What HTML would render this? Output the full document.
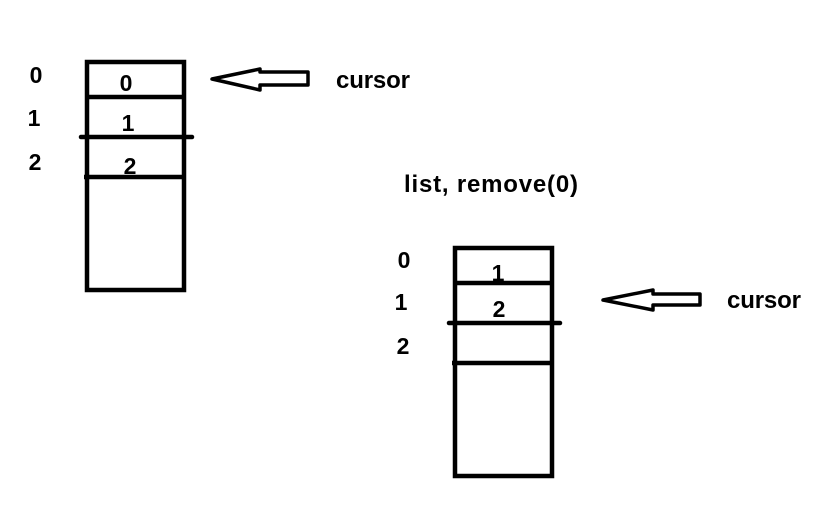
<!DOCTYPE html>
<html><head><meta charset="utf-8"><style>
html,body{margin:0;padding:0;background:#fff;width:840px;height:505px;overflow:hidden}
svg text{font-family:"Liberation Sans",sans-serif;font-weight:bold;fill:#000}
</style></head><body>
<svg width="840" height="505" viewBox="0 0 840 505">
<g>
  <rect x="87" y="62" width="97" height="228" fill="none" stroke="#000" stroke-width="4.5"/>
  <line x1="85" y1="97" x2="186" y2="97" stroke="#000" stroke-width="4.5"/>
  <line x1="81" y1="137" x2="192" y2="137" stroke="#000" stroke-width="4.5" stroke-linecap="round"/>
  <line x1="84" y1="177" x2="186" y2="177" stroke="#000" stroke-width="4.5"/>
  <text x="36" y="83" font-size="23" text-anchor="middle">0</text>
  <text x="34" y="126" font-size="23" text-anchor="middle">1</text>
  <text x="35" y="170" font-size="23" text-anchor="middle">2</text>
  <text x="126" y="91" font-size="23" text-anchor="middle">0</text>
  <text x="128" y="131" font-size="23" text-anchor="middle">1</text>
  <text x="130" y="174" font-size="23" text-anchor="middle">2</text>
  <polygon points="212,79 260,69 260,72 308,72 308,85 260,85 260,90" fill="none" stroke="#000" stroke-width="3.5" stroke-linejoin="round"/>
  <text x="336" y="88" font-size="24" textLength="74">cursor</text>
</g>
<text x="404" y="192" font-size="24" textLength="174">list, remove(0)</text>
<g>
  <rect x="455" y="248" width="97" height="228" fill="none" stroke="#000" stroke-width="4.5"/>
  <line x1="453" y1="283" x2="554" y2="283" stroke="#000" stroke-width="4.5"/>
  <line x1="449" y1="323" x2="560" y2="323" stroke="#000" stroke-width="4.5" stroke-linecap="round"/>
  <line x1="452" y1="363" x2="554" y2="363" stroke="#000" stroke-width="4.5"/>
  <text x="404" y="268" font-size="23" text-anchor="middle">0</text>
  <text x="401" y="310" font-size="23" text-anchor="middle">1</text>
  <text x="403" y="354" font-size="23" text-anchor="middle">2</text>
  <text x="498" y="281" font-size="23" text-anchor="middle">1</text>
  <text x="499" y="317" font-size="23" text-anchor="middle">2</text>
  <polygon points="603,300 653,290 653,294 700,294 700,305 653,305 653,310" fill="none" stroke="#000" stroke-width="3.5" stroke-linejoin="round"/>
  <text x="727" y="308" font-size="24" textLength="74">cursor</text>
</g>
</svg>
</body></html>
